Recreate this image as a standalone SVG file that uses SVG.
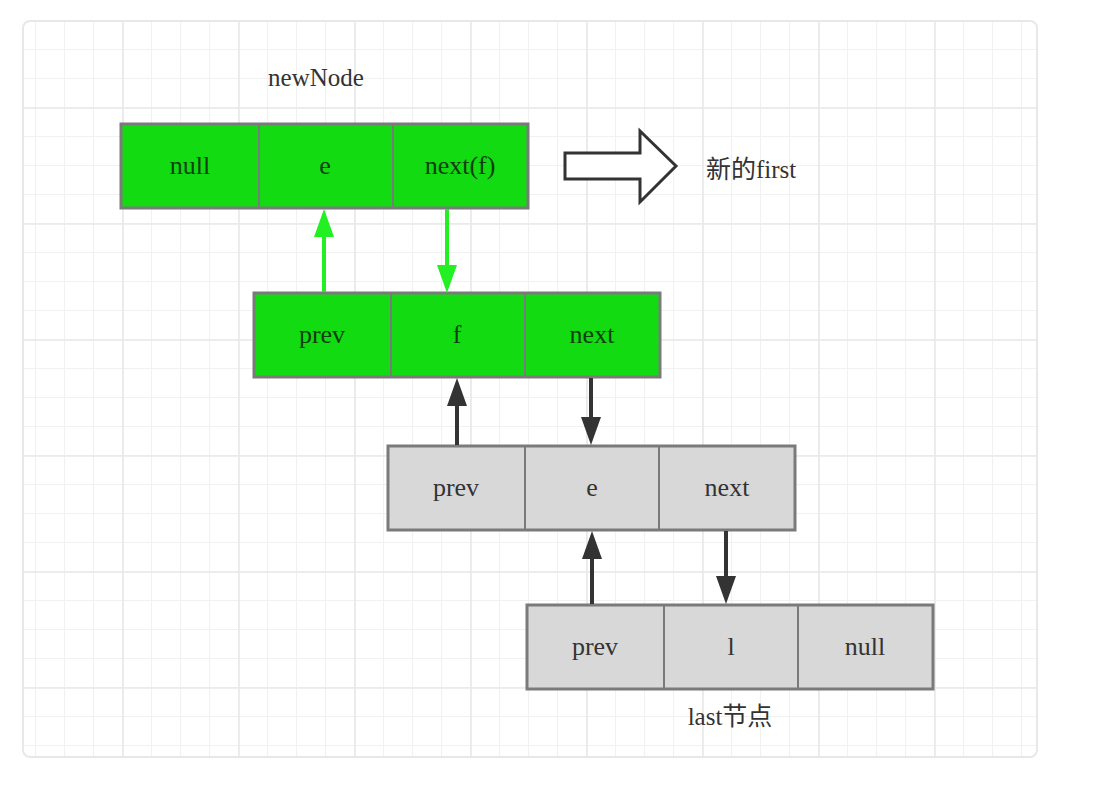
<svg xmlns="http://www.w3.org/2000/svg" width="1097" height="793" viewBox="0 0 1097 793">
<defs>
<style>
.cellG{fill:#12db12;stroke:#7a7a7a;stroke-width:3}
.cellY{fill:#d8d8d8;stroke:#7a7a7a;stroke-width:3}
.div{stroke:#7a7a7a;stroke-width:2}
.t{font-family:"Liberation Serif","Times New Roman",serif;font-size:26px;text-anchor:middle}
.tg{fill:#0e3f0e}
.ty{fill:#333}
.lbl{font-family:"Liberation Serif","Noto Sans CJK SC",serif;font-size:25px;fill:#333}
.ag{stroke:#22f022;stroke-width:4;fill:none}
.ad{stroke:#333;stroke-width:4;fill:none}
</style>
<pattern id="minor" width="29" height="29" x="6" y="20" patternUnits="userSpaceOnUse">
<path d="M0,0.5 H29 M0.5,0 V29" stroke="#f1f1f1" stroke-width="1.2" fill="none"/>
</pattern>
<pattern id="major" width="116" height="116" x="6" y="-9" patternUnits="userSpaceOnUse">
<path d="M0,1 H116 M1,0 V116" stroke="#e9e9e9" stroke-width="1.6" fill="none"/>
</pattern>
<clipPath id="cp"><rect x="23" y="21" width="1014" height="736" rx="7"/></clipPath>
<marker id="hg" markerUnits="userSpaceOnUse" markerWidth="28" markerHeight="20" refX="18" refY="10" orient="auto"><path d="M0,0 L28,10 L0,20 z" fill="#22f022"/></marker>
<marker id="hd" markerUnits="userSpaceOnUse" markerWidth="28" markerHeight="20" refX="18" refY="10" orient="auto"><path d="M0,0 L28,10 L0,20 z" fill="#333"/></marker>
</defs>
<rect width="1097" height="793" fill="#fff"/>
<g clip-path="url(#cp)">
<rect x="23" y="21" width="1014" height="736" fill="url(#minor)"/>
<rect x="23" y="21" width="1014" height="736" fill="url(#major)"/>
</g>
<rect x="23" y="21" width="1014" height="736" rx="7" fill="none" stroke="#e8e8e8" stroke-width="2"/>

<g id="label-newNode"><text class="lbl" x="316" y="86" text-anchor="middle">newNode</text></g>

<g id="node-newNode">
<rect class="cellG" x="121" y="124" width="407" height="84"/>
<line class="div" x1="259" y1="124" x2="259" y2="208"/>
<line class="div" x1="393" y1="124" x2="393" y2="208"/>
<text class="t tg" x="190" y="174">null</text>
<text class="t tg" x="325" y="174">e</text>
<text class="t tg" x="460" y="174">next(f)</text>
</g>

<g id="big-arrow">
<path d="M565,153 H640 V131 L676,166 L640,202 V179 H565 Z" fill="#fff" stroke="#333" stroke-width="3" stroke-linejoin="miter"/>
</g>
<g id="label-first"><text class="lbl" x="706" y="178">新的first</text></g>

<g id="node-f">
<rect class="cellG" x="254" y="293" width="406" height="84"/>
<line class="div" x1="391" y1="293" x2="391" y2="377"/>
<line class="div" x1="525" y1="293" x2="525" y2="377"/>
<text class="t tg" x="322" y="343">prev</text>
<text class="t tg" x="457" y="343">f</text>
<text class="t tg" x="592" y="343">next</text>
</g>

<g id="node-e">
<rect class="cellY" x="388" y="446" width="407" height="84"/>
<line class="div" x1="525" y1="446" x2="525" y2="530"/>
<line class="div" x1="659" y1="446" x2="659" y2="530"/>
<text class="t ty" x="456" y="496">prev</text>
<text class="t ty" x="592" y="496">e</text>
<text class="t ty" x="727" y="496">next</text>
</g>

<g id="node-l">
<rect class="cellY" x="527" y="605" width="406" height="84"/>
<line class="div" x1="664" y1="605" x2="664" y2="689"/>
<line class="div" x1="798" y1="605" x2="798" y2="689"/>
<text class="t ty" x="595" y="655">prev</text>
<text class="t ty" x="731" y="655">l</text>
<text class="t ty" x="865" y="655">null</text>
</g>
<g id="label-last"><text class="lbl" x="730" y="725" text-anchor="middle">last节点</text></g>

<g id="connectors">
<path class="ag" d="M324,292 V219" marker-end="url(#hg)"/>
<path class="ag" d="M447,209 V283" marker-end="url(#hg)"/>
<path class="ad" d="M457,445 V388" marker-end="url(#hd)"/>
<path class="ad" d="M591,378 V435" marker-end="url(#hd)"/>
<path class="ad" d="M592,604 V541" marker-end="url(#hd)"/>
<path class="ad" d="M726,531 V594" marker-end="url(#hd)"/>
</g>
</svg>
